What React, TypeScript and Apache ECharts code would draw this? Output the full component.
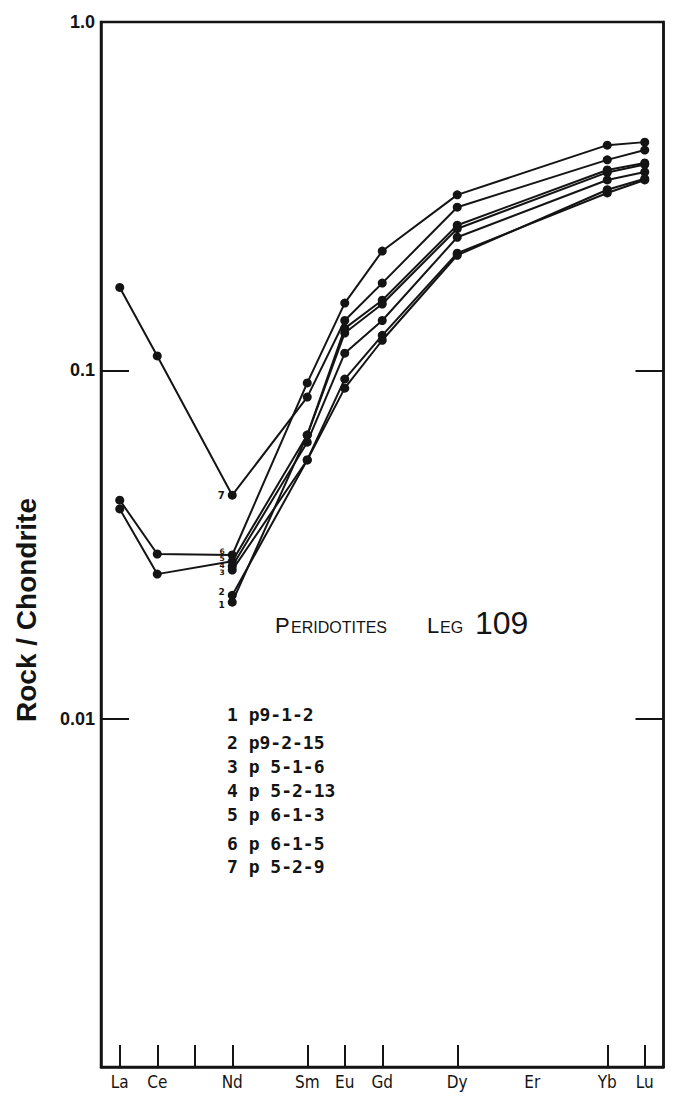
import React, { useEffect, useRef } from "react";
import * as echarts from "echarts";

const elements = ["La", "Ce", "Pr", "Nd", "Pm", "Sm", "Eu", "Gd", "Tb", "Dy", "Ho", "Er", "Tm", "Yb", "Lu"];
const labeledElements = ["La", "Ce", "Nd", "Sm", "Eu", "Gd", "Dy", "Er", "Yb", "Lu"];
const tickedElements = ["La", "Ce", "Pr", "Nd", "Sm", "Eu", "Gd", "Dy", "Yb", "Lu"];
const yTickLabels: Record<string, string> = { "0": "1.0", "-1": "0.1", "-2": "0.01" };

// chondrite-normalised values in element order (La..Lu), null = not analysed
const sample1 = [null, null, null, 0.0216, null, 0.0652, 0.128, 0.155, null, 0.255, null, null, null, 0.37, 0.39];
const sample2 = [null, null, null, 0.0226, null, 0.0553, 0.0889, 0.122, null, 0.214, null, null, null, 0.33, 0.355];
const sample3 = [null, null, null, 0.0267, null, 0.0553, 0.0944, 0.126, null, 0.217, null, null, null, 0.323, 0.352];
const sample4 = [null, null, null, 0.0274, null, 0.0622, 0.112, 0.139, null, 0.241, null, null, null, 0.352, 0.371];
const sample5 = [0.04, 0.026, null, 0.0283, null, 0.0652, 0.132, 0.159, null, 0.261, null, null, null, 0.376, 0.394];
const sample6 = [0.0424, 0.0297, null, 0.0295, null, 0.092, 0.156, 0.22, null, 0.319, null, null, null, 0.443, 0.452];
const sample7 = [0.173, 0.11, null, 0.0438, null, 0.0838, 0.139, 0.178, null, 0.294, null, null, null, 0.402, 0.429];

const samples = [sample1, sample2, sample3, sample4, sample5, sample6, sample7];
const sampleNumbers = ["1", "2", "3", "4", "5", "6", "7"];
const sampleNames = ["p9-1-2", "p9-2-15", "p 5-1-6", "p 5-2-13", "p 6-1-3", "p 6-1-5", "p 5-2-9"];
const labelShiftY = [3, -3, 2, -1, -3, -4, 0];
const labelSizes = [9, 9, 7.5, 7.5, 7.5, 7.5, 10];
const legendRowsY = [714, 742, 766, 790, 814, 843, 866];

export default function App() {
  const ref = useRef<HTMLDivElement>(null);
  useEffect(() => {
    if (!ref.current) return;
    const chart = echarts.init(ref.current, null, { renderer: "svg" });
    const ink = "#141414";
    const ndIndex = elements.indexOf("Nd");

    const series = samples.map((vals, si) => ({
      type: "line",
      name: sampleNumbers[si],
      connectNulls: true,
      symbol: "circle",
      symbolSize: 9,
      lineStyle: { color: ink, width: 2 },
      itemStyle: { color: ink },
      z: 3,
      data: vals.map((v, i) =>
        i === ndIndex
          ? {
              value: v,
              label: {
                show: true,
                position: "left",
                distance: 3,
                offset: [0, labelShiftY[si]],
                formatter: sampleNumbers[si],
                fontSize: labelSizes[si],
                lineHeight: labelSizes[si] < 8 ? 7 : labelSizes[si],
                fontWeight: "bold",
                color: ink,
                fontFamily: "DejaVu Sans",
              },
            }
          : v
      ),
    }));

    const yAxisBase = {
      type: "log",
      logBase: 10,
      min: 0.001,
      max: 1,
      axisLine: { show: true, lineStyle: { color: ink, width: 2.5 } },
      axisTick: { show: true, inside: true, length: 28, lineStyle: { color: ink, width: 2 } },
      splitLine: { show: false },
      minorTick: { show: false },
    };

    const legendTexts = sampleNames.map((nm, i) => ({
      type: "text",
      x: 227,
      y: legendRowsY[i],
      style: {
        text: sampleNumbers[i] + " " + nm,
        font: "bold 18px 'DejaVu Sans Mono'",
        fill: ink,
        verticalAlign: "middle",
      },
    }));

    const titleBase = 632;
    const titlePart = (text: string, x: number, size: number) => ({
      type: "text",
      x,
      y: titleBase + 0.21 * size,
      style: { text, font: `${size}px 'Liberation Sans'`, fill: ink, verticalAlign: "bottom" },
    });

    chart.setOption({
      animation: false,
      backgroundColor: "#ffffff",
      grid: {
        left: 101,
        top: 22,
        width: 562.5,
        height: 1045,
        show: true,
        borderColor: ink,
        borderWidth: 2.5,
        containLabel: false,
      },
      xAxis: {
        type: "category",
        data: elements,
        boundaryGap: true,
        axisLine: { show: true, lineStyle: { color: ink, width: 2.5 } },
        axisTick: {
          show: true,
          inside: true,
          alignWithLabel: true,
          length: 22,
          interval: (idx: number) => tickedElements.includes(elements[idx]),
          lineStyle: { color: ink, width: 2 },
        },
        axisLabel: {
          interval: 0,
          margin: 6,
          color: ink,
          fontSize: 17,
          fontFamily: "DejaVu Sans Condensed",
          formatter: (v: string) => (labeledElements.includes(v) ? v : ""),
        },
        splitLine: { show: false },
      },
      yAxis: [
        {
          ...yAxisBase,
          position: "left",
          axisLabel: {
            show: true,
            margin: 6,
            padding: [0, 0, 8, 0],
            color: ink,
            fontSize: 18,
            fontWeight: "bold",
            fontFamily: "Liberation Sans Narrow, Liberation Sans",
            formatter: (v: number) => {
              const k = String(Math.round(Math.log10(v)));
              return yTickLabels[k] ?? "";
            },
          },
        },
        {
          ...yAxisBase,
          position: "right",
          axisLabel: { show: false },
        },
      ],
      series,
      graphic: [
        {
          type: "text",
          x: 26,
          y: 610,
          rotation: Math.PI / 2,
          style: {
            text: "Rock / Chondrite",
            font: "bold 28px 'Liberation Sans'",
            fill: ink,
            align: "center",
            verticalAlign: "middle",
          },
        },
        titlePart("P", 275, 22),
        titlePart("ERIDOTITES", 291, 16),
        titlePart("L", 427, 22),
        titlePart("EG", 440, 16),
        titlePart("109", 475, 32),
        ...legendTexts,
      ],
    });
    return () => chart.dispose();
  }, []);
  return <div ref={ref} style={{ position: "absolute", left: 0, top: 0, width: 680, height: 1098 }} />;
}
